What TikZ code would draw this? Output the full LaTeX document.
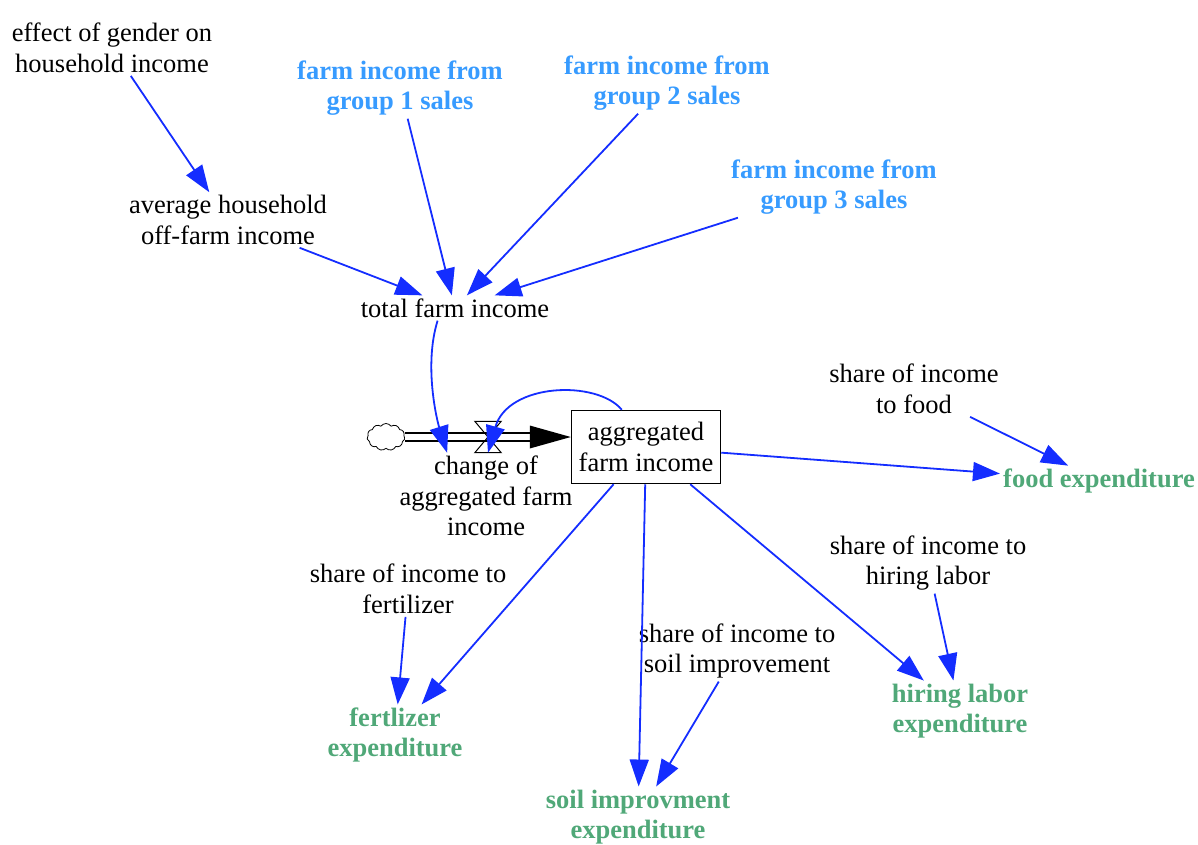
\documentclass[tikz,border=0pt]{standalone}
\usepackage{fontspec}
\setmainfont{Liberation Serif}
\usetikzlibrary{arrows.meta,shapes.symbols}
\definecolor{linkblue}{RGB}{20,45,255}
\definecolor{auxblue}{RGB}{55,155,255}
\definecolor{outgreen}{RGB}{80,168,120}

\begin{document}
\begin{tikzpicture}[x=1pt,y=1pt,
  every node/.style={align=center, inner sep=3pt},
  var/.style={font=\fontsize{26.5}{30.5}\selectfont},
  inputvar/.style={text=auxblue, font=\fontsize{26.5}{30.5}\selectfont\bfseries},
  outvar/.style={text=outgreen, font=\fontsize{26.5}{30.5}\selectfont\bfseries},
  stockbox/.style={draw, line width=1.5pt, minimum width=149pt, minimum height=73pt,
    font=\fontsize{26.5}{30.5}\selectfont},
  link/.style={draw=linkblue, line width=1.8pt, -{Triangle[length=27pt,width=19pt]}},
  pipe/.style={draw=black, line width=1.5pt, double=white, double distance=6.5pt},
  valvebox/.style={minimum width=26pt, minimum height=31pt, inner sep=0pt},
  source/.style={cloud, draw, line width=0.8pt, cloud puffs=11, cloud puff arc=110,
    aspect=1.4, minimum width=38pt, minimum height=27pt, inner sep=0pt}
]
\useasboundingbox (0,0) rectangle (1198,-844);

% auxiliary variables
\node[var] (eff) at (112,-48) {effect of gender on\\household income};
\node[inputvar] (g1) at (400,-88) {farm income from\\group 1 sales};
\node[inputvar] (g2) at (667,-83) {farm income from\\group 2 sales};
\node[inputvar] (g3) at (834,-187) {farm income from\\group 3 sales};
\node[var] (avg) at (228,-220) {average household\\off-farm income};
\node[var] (total) at (455,-308) {total farm income};

% stock and flow
\node[source] (cloud) at (386,-437) {};
\node[stockbox] (box) at (646,-447) {aggregated\\farm income};
\coordinate (inlet) at (cloud.east -| box.west);
\draw[pipe, shorten >=38pt] (cloud.east) -- (inlet);
\fill (inlet) -- ++(-41,11.5) -- ++(0,-23) -- cycle;
\node[valvebox] (valve) at (488,-437) {};
\draw[line width=1pt] (valve.north west) -- (valve.north east) -- (valve.south west)
  -- (valve.south east) -- cycle;
\node[var] (chg) at (486,-496) {change of\\aggregated farm\\income};

% expenditure shares and outputs
\node[var] (sfood) at (914,-389) {share of income\\to food};
\node[outvar] (food) at (1099,-481) {food expenditure};
\node[var] (sfert) at (408,-589) {share of income to\\fertilizer};
\node[outvar] (fert) at (395,-735) {fertlizer\\expenditure};
\node[var] (ssoil) at (737,-651) {share of income to\\soil improvement};
\node[outvar] (soil) at (638,-817) {soil improvment\\expenditure};
\node[var] (shire) at (928,-563) {share of income to\\hiring labor};
\node[outvar] (hire) at (960,-711) {hiring labor\\expenditure};

% causal links
\draw[link] (eff) -- (avg);
\draw[link] (g1) -- (total);
\draw[link] (g2) -- (total);
\draw[link] (g3) -- (total);
\draw[link] (avg) -- (total);
\draw[link] (total.216) .. controls +(-14,-45) and +(-10,32) .. (chg.132);
\draw[link] (box.123) .. controls +(-25,30) and +(20,70) .. (valve.south);
\draw[link] (box) -- (food);
\draw[link] (sfood) -- (food);
\draw[link] (box) -- (fert);
\draw[link] (sfert) -- (fert);
\draw[link] (box) -- (soil);
\draw[link] (ssoil) -- (soil);
\draw[link] (box) -- (hire);
\draw[link] (shire) -- (hire);
\end{tikzpicture}
\end{document}
